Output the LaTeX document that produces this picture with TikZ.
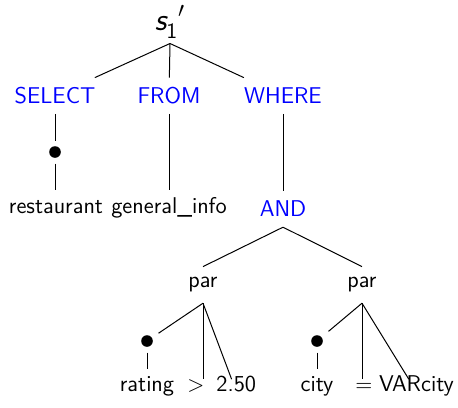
\documentclass[tikz,border=0pt]{standalone}
\usepackage{tikz}

\begin{document}
\begin{tikzpicture}[x=0.5pt, y=-0.5pt, line width=0.5pt,
    font=\fontsize{11.4}{13}\selectfont\sffamily,
    word/.style={anchor=base, inner sep=3pt, text height=8.2pt, text depth=2pt},
    kw/.style={word, text=blue, text height=9.6pt},
    parbox/.style={anchor=base, inner sep=3pt, text height=7.3pt, text depth=4.5pt},
    sym/.style={anchor=base, inner sep=0pt, text height=6pt, text depth=6pt},
    dotbox/.style={minimum size=11pt, inner sep=0pt,
        path picture={\fill (path picture bounding box.center) circle (2.9pt);}}]

    \useasboundingbox (0,0) rectangle (458,407);

    \node[anchor=base, inner sep=1pt, text height=11pt, text depth=5.5pt,
        font=\fontsize{16}{18}\selectfont\sffamily] at (170,30) (root) {${\textit{s}_{\mathsf{1}}^{\phantom{\prime}}}{}'$};

    \node[kw] at (55,103.3) (select) {SELECT};
    \node[kw] at (169,103.3) (from) {FROM};
    \node[kw] at (283,103.3) (where) {WHERE};

    \node[dotbox] at (55,152) (dotS) {};
    \node[word] at (56,213.3) (restaurant) {restaurant};
    \node[word] at (169,213.3) (general) {general\_info};
    \node[kw] at (283,216.7) (and) {AND};

    \node[parbox] at (203,287.7) (parL) {par};
    \node[parbox] at (362,287.7) (parR) {par};

    \node[dotbox] at (147,341) (dotL) {};
    \node[dotbox] at (317,341) (dotR) {};

    \node[word] at (147,391.7) (rating) {rating};
    \node[sym] at (196,391.7) (gt) {$>$};
    \node[sym] at (236.3,391.7) (valL) {2.50};
    \node[word] at (317,391.7) (city) {city};
    \node[sym] at (364,391.7) (eq) {$=$};
    \node[sym] at (416.5,391.7) (valR) {VARcity};

    \draw (root.south) -- (select);
    \draw (root.south) -- (from);
    \draw (root.south) -- (where);
    \draw (select) -- (dotS);
    \draw (dotS) -- (restaurant.north -| dotS);
    \draw (from) -- (general);
    \draw (where) -- (and);

    \draw (and.south) -- (parL.north);
    \draw (and.south) -- (parR.north);

    \draw (parL.south) -- (dotL);
    \draw (parL.south) -- (parL.south |- gt.north);
    \draw (parL.south) -- (valL);
    \draw (dotL) -- (rating);

    \draw (parR.south) -- (dotR);
    \draw (parR.south) -- (parR.south |- eq.north);
    \draw (parR.south) -- (valR);
    \draw (dotR) -- (city);

\end{tikzpicture}
\end{document}
